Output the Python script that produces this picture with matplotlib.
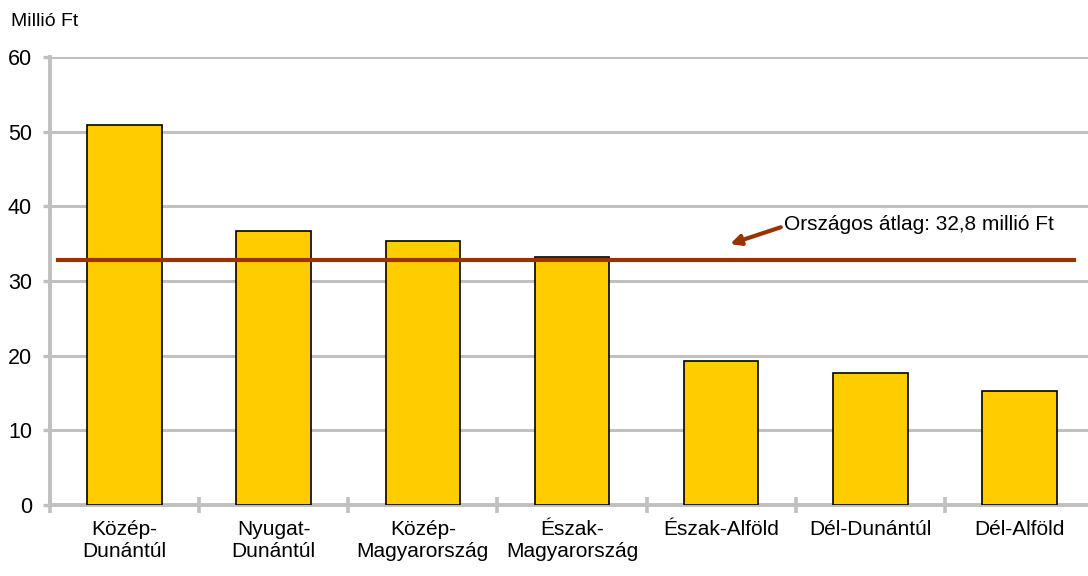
import matplotlib
matplotlib.use("Agg")
import matplotlib.pyplot as plt
import numpy as np

plt.rcParams['font.family'] = ['Liberation Sans', 'DejaVu Sans']

categories = ["Közép-\nDunántúl", "Nyugat-\nDunántúl", "Közép-\nMagyarország",
              "Észak-\nMagyarország", "Észak-Alföld", "Dél-Dunántúl", "Dél-Alföld"]
values = [50.9, 36.7, 35.4, 33.2, 19.3, 17.7, 15.3]
average = 32.8
avg_label = "Országos átlag: 32,8 millió Ft"
y_ticks = [0, 10, 20, 30, 40, 50, 60]
unit_label = "Millió Ft"

W, H = 1088, 576
fig = plt.figure(figsize=(W / 100, H / 100), dpi=100)
ax = fig.add_axes([50 / W, 71 / H, 1044 / W, 448 / H])

gray = "#c0c0c0"
x = np.arange(len(categories))
ax.bar(x, values, width=0.5, color="#FFCC00", edgecolor="black", linewidth=1.2, zorder=3)

ax.set_xlim(-0.5, len(categories) - 0.5)
ax.set_ylim(0, 60)
ax.set_yticks(y_ticks)
ax.set_xticks(x)
ax.set_xticklabels(categories, fontsize=15, linespacing=1.15)
ax.set_xticks(np.arange(len(categories) + 1) - 0.5, minor=True)
ax.tick_params(axis='x', which='major', length=0, pad=11)
ax.tick_params(axis='x', which='minor', direction='inout', length=11, width=2.6, color=gray)
ax.tick_params(axis='y', length=5, width=2.4, color=gray, labelsize=15.5, pad=8)

ax.yaxis.grid(True, color=gray, linewidth=2.2, zorder=0)
ax.set_axisbelow(True)
for s in ['top', 'right']:
    ax.spines[s].set_visible(False)
for s in ['left', 'bottom']:
    ax.spines[s].set_color(gray)
    ax.spines[s].set_linewidth(2.8)

ax.axhline(average, xmin=0.0073, xmax=0.981, color="#993300", linewidth=3.0, zorder=4)

ax.text(4.42, 37.6, avg_label, fontsize=15, ha='left', va='center', zorder=5)
ax.annotate("", xy=(4.06, 34.95), xytext=(4.40, 37.2),
            arrowprops=dict(arrowstyle='-|>,head_length=0.6,head_width=0.3',
                            color="#993300", lw=3.0, shrinkA=0, shrinkB=0))

fig.text(11 / W, 1 - 22 / H, unit_label, fontsize=14, ha='left', va='center')

fig.savefig("out.png", dpi=100)
